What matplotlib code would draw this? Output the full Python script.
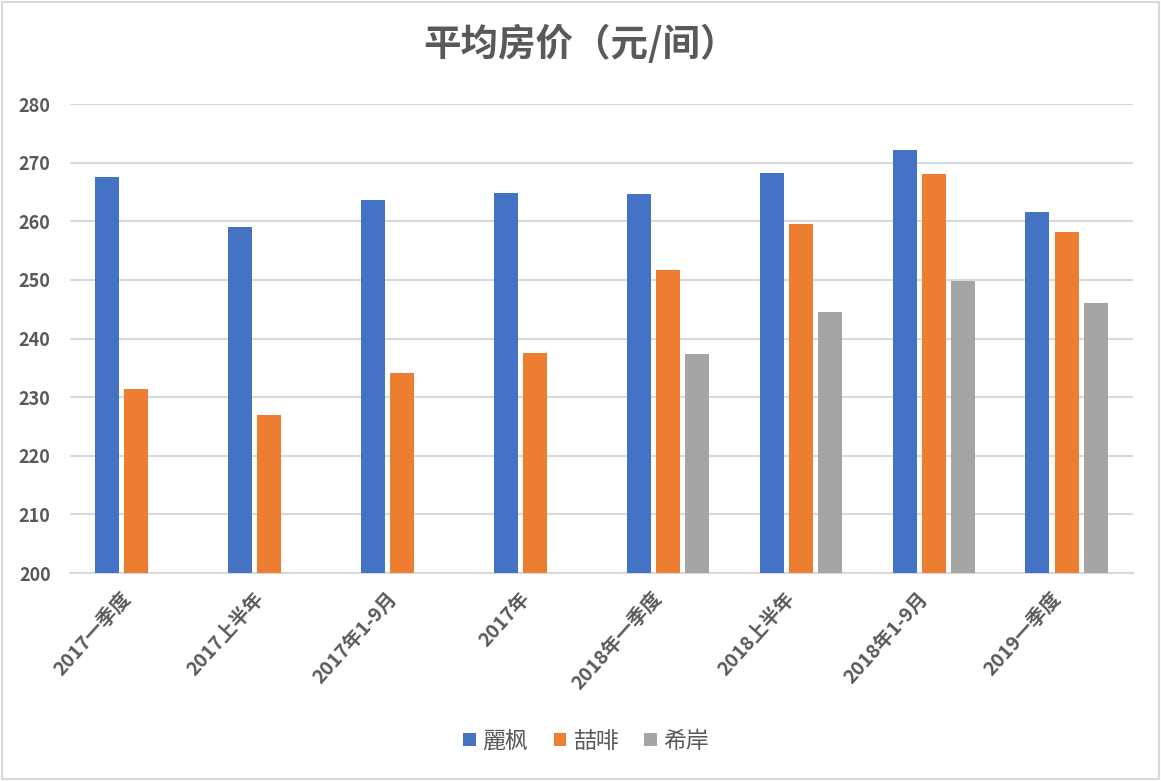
import matplotlib
matplotlib.use('Agg')
import matplotlib.pyplot as plt
import matplotlib.transforms as mtransforms
import numpy as np
from matplotlib.patches import Rectangle

plt.rcParams['font.family'] = ['Noto Sans CJK SC', 'DejaVu Sans']

categories = ['2017一季度', '2017上半年', '2017年1-9月', '2017年',
              '2018年一季度', '2018上半年', '2018年1-9月', '2019一季度']
series_names = ['麗枫', '喆啡', '希岸']
lifeng = [267.6, 259.1, 263.6, 264.8, 264.7, 268.3, 272.2, 261.6]
zhefei = [231.4, 227.0, 234.2, 237.5, 251.7, 259.6, 268.1, 258.2]
xian = [np.nan, np.nan, np.nan, np.nan, 237.4, 244.5, 249.8, 246.1]
colors = ['#4472C4', '#ED7D31', '#A5A5A5']
txt = '#595959'

fig = plt.figure(figsize=(11.61, 7.81), dpi=100)
ax = fig.add_axes([0.0603, 0.2663, 0.9157, 0.6005])

x = np.arange(len(categories))
w = 0.18
step = 0.22
for i, (vals, name) in enumerate(zip([lifeng, zhefei, xian], series_names)):
    vals = np.array(vals)
    ax.bar(x + (i - 1) * step, vals - 200, bottom=200, width=w,
           color=colors[i], label=name, zorder=3)

ax.set_xlim(-0.5, len(categories) - 0.5)
ax.set_ylim(200, 280)
ax.set_yticks(range(200, 281, 10))
ax.yaxis.grid(True, color='#D9D9D9', linewidth=1.5, zorder=0)
ax.tick_params(axis='both', length=0, colors=txt)
ax.tick_params(axis='y', pad=14)
for s in ['left', 'right', 'top']:
    ax.spines[s].set_visible(False)
ax.spines['bottom'].set_color('#D9D9D9')
ax.spines['bottom'].set_linewidth(1.5)

for lab in ax.get_yticklabels():
    lab.set_fontsize(13)
    lab.set_fontweight('bold')

ax.set_xticks(x)
ax.set_xticklabels(categories, rotation=48, ha='right', va='center',
                   rotation_mode='anchor', fontsize=14, fontweight='bold',
                   color=txt)
ax.tick_params(axis='x', pad=16)
shift = mtransforms.ScaledTranslation(-0.09, 0, fig.dpi_scale_trans)
for lab in ax.get_xticklabels():
    lab.set_transform(lab.get_transform() + shift)

fig.text(0.5, 0.943, '平均房价（元/间）', ha='center', va='center',
         fontsize=27, fontweight='bold', color=txt)

leg = fig.legend(loc='center', bbox_to_anchor=(0.505, 0.051), ncol=3,
                 frameon=False, fontsize=16.5, handlelength=0.55,
                 handleheight=0.55, handletextpad=0.3, columnspacing=1.1)
for t in leg.get_texts():
    t.set_color(txt)

fig.patches.append(Rectangle((0.002, 0.003), 0.996, 0.994, transform=fig.transFigure,
                             fill=False, edgecolor='#D9D9D9', linewidth=1.5))

fig.savefig('out.png', dpi=100)
